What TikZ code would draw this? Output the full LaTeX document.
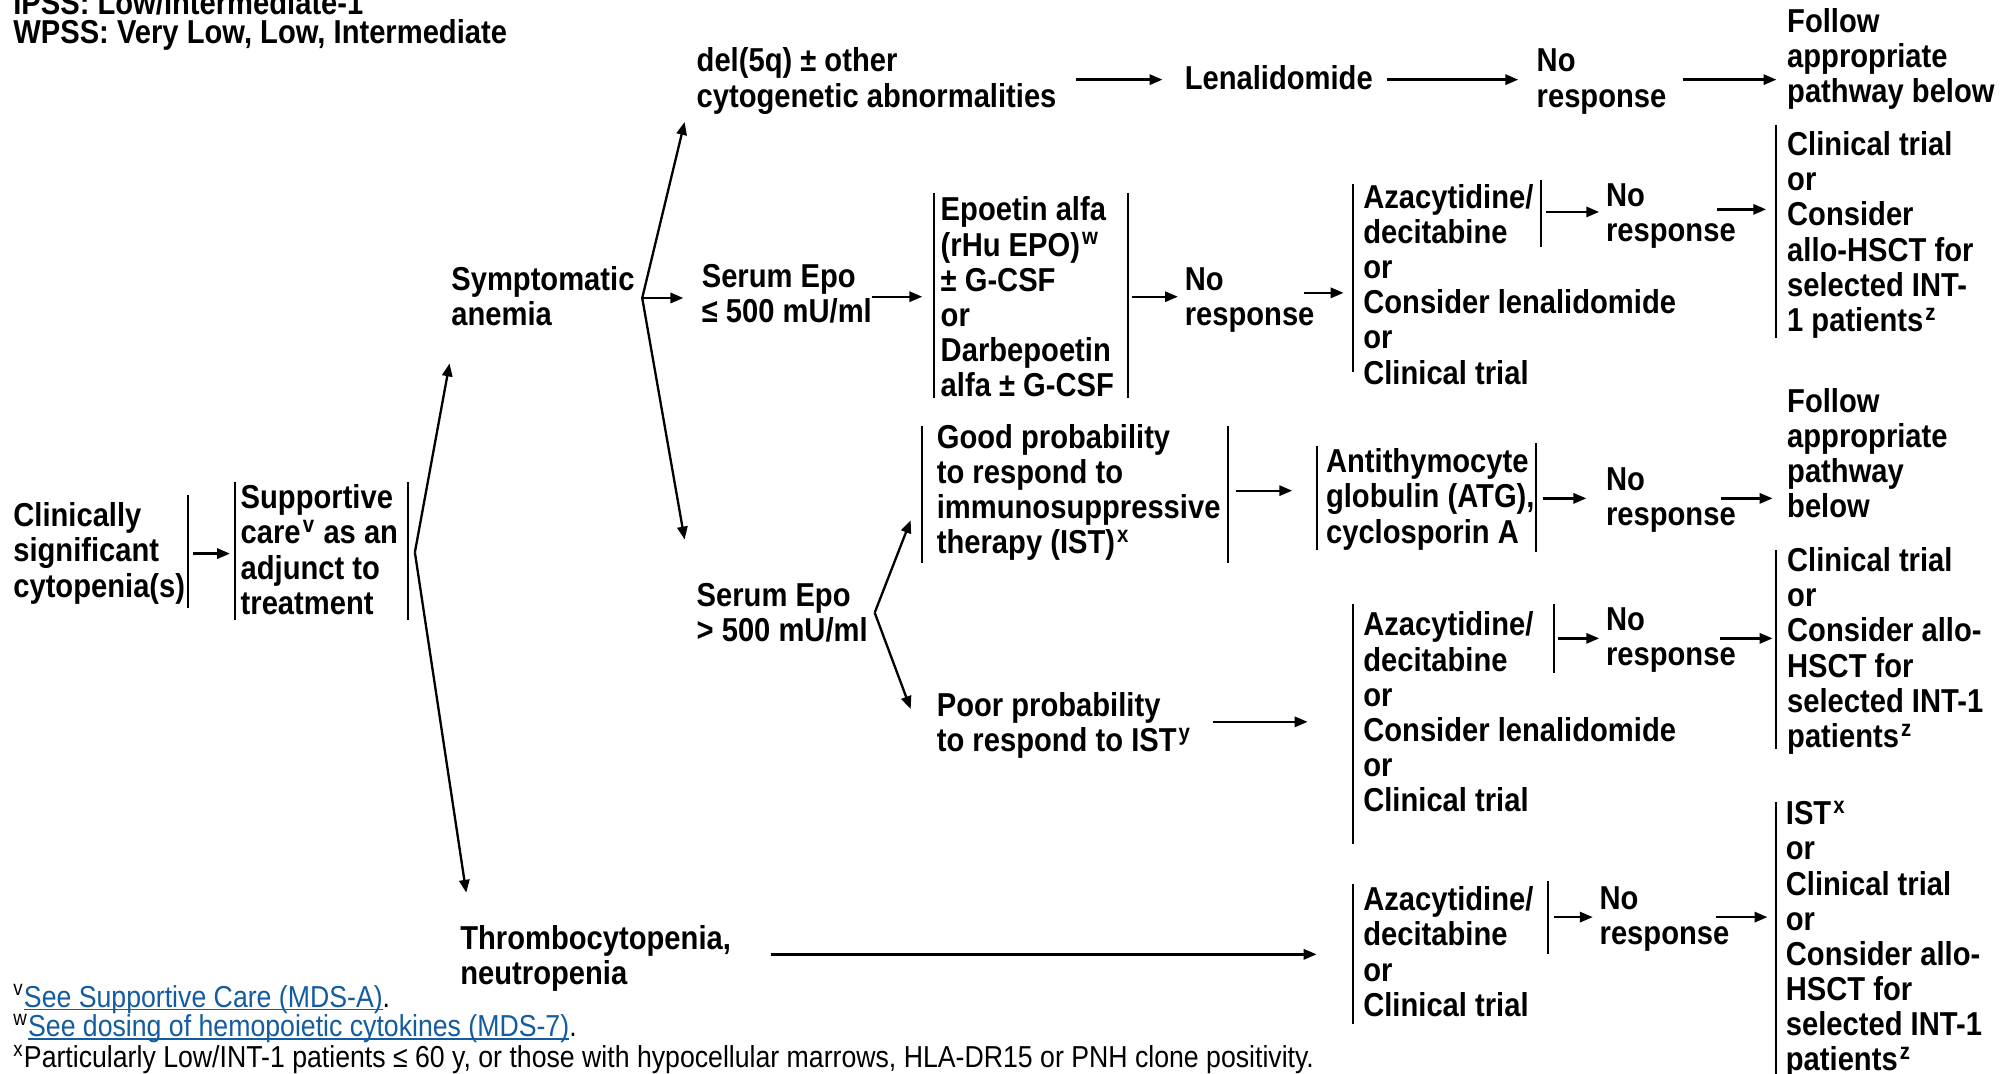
\documentclass[tikz,border=0pt]{standalone}
\usepackage{fontspec}
\setmainfont[FakeStretch=0.88]{Liberation Sans}
\usetikzlibrary{arrows.meta}
\definecolor{lnk}{RGB}{20,92,160}
\newcommand{\ml}[1]{\begin{tabular}[t]{@{}l@{}}#1\end{tabular}}
\tikzset{
  txt/.style={anchor=base west, inner sep=0pt, font=\fontsize{12.9}{13.7}\selectfont\bfseries},
  fnote/.style={anchor=base west, inner sep=0pt, font=\fontsize{11.8}{11.8}\selectfont},
  arr/.style={-{Triangle[length=5pt,width=4pt]}, line width=0.9pt},
  bar/.style={line width=0.8pt},
}
\newcommand{\sps}[1]{\kern0.8pt\textsuperscript{#1}}
\newcommand{\fsup}[1]{\textsuperscript{#1}}
\newcommand{\lk}[1]{\textcolor{lnk}{\setbox0\hbox{#1}\rlap{\rule[-1.3pt]{\wd0}{0.55pt}}\box0}}
\begin{document}
\begin{tikzpicture}[x=0.5pt,y=-0.5pt]
\fill[white] (0,0) rectangle (1568,836);
\useasboundingbox (0,0) rectangle (1568,836);

% header
\node[txt] (hdr1) at (10,11) {IPSS: Low/Intermediate-1};
\node[txt] (hdr2) at (10,34) {WPSS: Very Low, Low, Intermediate};

% text blocks
\node[txt] (clin) at (10,410) {\ml{Clinically\\significant\\cytopenia(s)}};
\node[txt] (supp) at (187,396) {\ml{Supportive\\care\sps{v} as an\\adjunct to\\treatment}};
\node[txt] (symp) at (351,226) {\ml{Symptomatic\\anemia}};
\node[txt] (del) at (542,56) {\ml{del(5q) ± other\\cytogenetic abnormalities}};
\node[txt] (len) at (922,70) {Lenalidomide};
\node[txt] (nr1) at (1196,56) {\ml{No\\response}};
\node[txt] (fol1) at (1391,25) {\ml{Follow\\appropriate\\pathway below}};
\node[txt] (sepo1) at (546,224) {\ml{Serum Epo\\≤ 500 mU/ml}};
\node[txt] (epo) at (732,172) {\ml{Epoetin alfa\\(rHu EPO)\sps{w}\\± G-CSF\\or\\Darbepoetin\\alfa ± G-CSF}};
\node[txt] (nr2) at (922,226) {\ml{No\\response}};
\node[txt] (aza1) at (1061,162) {\ml{Azacytidine/\\decitabine\\or\\Consider lenalidomide\\or\\Clinical trial}};
\node[txt] (nr3) at (1250,161) {\ml{No\\response}};
\node[txt] (ct1) at (1391,121) {\ml{Clinical trial\\or\\Consider\\allo-HSCT for\\selected INT-\\1 patients\sps{z}}};
\node[txt] (sepo2) at (542,472) {\ml{Serum Epo\\> 500 mU/ml}};
\node[txt] (good) at (729,349) {\ml{Good probability\\to respond to\\immunosuppressive\\therapy (IST)\sps{x}}};
\node[txt] (atg) at (1032,368) {\ml{Antithymocyte\\globulin (ATG),\\cyclosporin A}};
\node[txt] (nr4) at (1250,382) {\ml{No\\response}};
\node[txt] (fol2) at (1391,321) {\ml{Follow\\appropriate\\pathway\\below}};
\node[txt] (poor) at (729,558) {\ml{Poor probability\\to respond to IST\sps{y}}};
\node[txt] (aza2) at (1061,495) {\ml{Azacytidine/\\decitabine\\or\\Consider lenalidomide\\or\\Clinical trial}};
\node[txt] (nr5) at (1250,491) {\ml{No\\response}};
\node[txt] (ct2) at (1391,445) {\ml{Clinical trial\\or\\Consider allo-\\HSCT for\\selected INT-1\\patients\sps{z}}};
\node[txt] (thr) at (358,739) {\ml{Thrombocytopenia,\\neutropenia}};
\node[txt] (aza3) at (1061,709) {\ml{Azacytidine/\\decitabine\\or\\Clinical trial}};
\node[txt] (nr6) at (1245,708) {\ml{No\\response}};
\node[txt] (ist) at (1390,642) {\ml{IST\sps{x}\\or\\Clinical trial\\or\\Consider allo-\\HSCT for\\selected INT-1\\patients\sps{z}}};

% footnotes
\node[fnote] (fn1) at (10,784) {\fsup{v}\lk{See Supportive Care (MDS-A)}.};
\node[fnote] (fn2) at (10,807) {\fsup{w}\lk{See dosing of hemopoietic cytokines (MDS-7)}.};
\node[fnote] (fn3) at (10,831) {\fsup{x}Particularly Low/INT-1 patients ≤ 60 y, or those with hypocellular marrows, HLA-DR15 or PNH clone positivity.};

% bars
\draw[bar] (146,385) -- (146,473);
\draw[bar] (183,375) -- (183,483);
\draw[bar] (318,375) -- (318,483);
\draw[bar] (727,150) -- (727,310);
\draw[bar] (878,150) -- (878,310);
\draw[bar] (1053,143) -- (1053,290);
\draw[bar] (1200,140) -- (1200,192);
\draw[bar] (1383,97) -- (1383,263);
\draw[bar] (718,332) -- (718,438);
\draw[bar] (956,332) -- (956,438);
\draw[bar] (1025,347) -- (1025,428);
\draw[bar] (1196,345) -- (1196,430);
\draw[bar] (1053,470) -- (1053,657);
\draw[bar] (1210,470) -- (1210,524);
\draw[bar] (1383,428) -- (1383,583);
\draw[bar] (1053,688) -- (1053,797);
\draw[bar] (1205,686) -- (1205,743);
\draw[bar] (1383,624) -- (1383,836);

% connector coordinates
\coordinate (c1a) at (150,431); \coordinate (c1b) at (179,431);
\coordinate (v1) at (323,430); \coordinate (v1u) at (350,283); \coordinate (v1d) at (363,695);
\coordinate (v2) at (500,232); \coordinate (v2u) at (533,95); \coordinate (v2r) at (532,232); \coordinate (v2d) at (533,420);
\coordinate (c2a) at (838,62); \coordinate (c2b) at (905,62);
\coordinate (c3a) at (1080,62); \coordinate (c3b) at (1182,62);
\coordinate (c4a) at (1310,62); \coordinate (c4b) at (1383,62);
\coordinate (c5a) at (679,231); \coordinate (c5b) at (718,231);
\coordinate (c6a) at (881,231); \coordinate (c6b) at (917,231);
\coordinate (c7a) at (1015,228); \coordinate (c7b) at (1046,228);
\coordinate (c8a) at (1204,165); \coordinate (c8b) at (1245,165);
\coordinate (c9a) at (1337,163); \coordinate (c9b) at (1375,163);
\coordinate (v3) at (681,477); \coordinate (v3u) at (709,405); \coordinate (v3d) at (709,552);
\coordinate (c10a) at (962,382); \coordinate (c10b) at (1006,382);
\coordinate (c11a) at (1201,388); \coordinate (c11b) at (1235,388);
\coordinate (c12a) at (1340,388); \coordinate (c12b) at (1380,388);
\coordinate (c13a) at (944,562); \coordinate (c13b) at (1018,562);
\coordinate (c14a) at (1213,497); \coordinate (c14b) at (1245,497);
\coordinate (c15a) at (1339,497); \coordinate (c15b) at (1380,497);
\coordinate (c16a) at (600,743); \coordinate (c16b) at (1025,743);
\coordinate (c17a) at (1210,714); \coordinate (c17b) at (1240,714);
\coordinate (c18a) at (1336,714); \coordinate (c18b) at (1376,714);

% connectors
\draw[arr] (c1a) -- (c1b);
\draw[arr] (v1) -- (v1u);
\draw[arr] (v1) -- (v1d);
\draw[arr] (v2) -- (v2u);
\draw[arr] (v2) -- (v2r);
\draw[arr] (v2) -- (v2d);
\draw[arr] (c2a) -- (c2b);
\draw[arr] (c3a) -- (c3b);
\draw[arr] (c4a) -- (c4b);
\draw[arr] (c5a) -- (c5b);
\draw[arr] (c6a) -- (c6b);
\draw[arr] (c7a) -- (c7b);
\draw[arr] (c8a) -- (c8b);
\draw[arr] (c9a) -- (c9b);
\draw[arr] (v3) -- (v3u);
\draw[arr] (v3) -- (v3d);
\draw[arr] (c10a) -- (c10b);
\draw[arr] (c11a) -- (c11b);
\draw[arr] (c12a) -- (c12b);
\draw[arr] (c13a) -- (c13b);
\draw[arr] (c14a) -- (c14b);
\draw[arr] (c15a) -- (c15b);
\draw[arr] (c16a) -- (c16b);
\draw[arr] (c17a) -- (c17b);
\draw[arr] (c18a) -- (c18b);
\end{tikzpicture}
\end{document}
